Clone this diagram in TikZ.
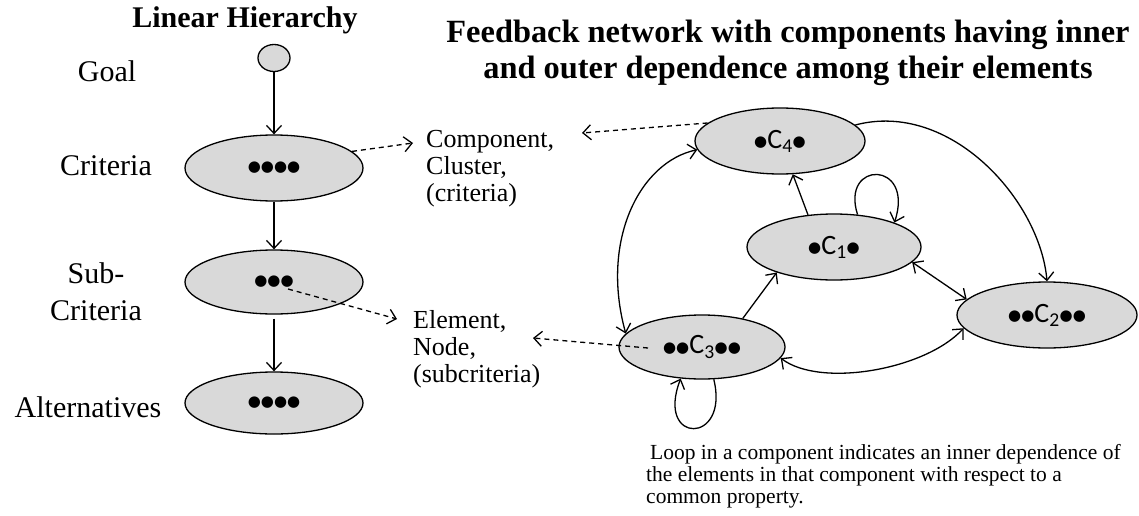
\documentclass[tikz,border=0pt]{standalone}
\usepackage{fontspec}
\setmainfont{Liberation Serif}
\newfontfamily\calib{Carlito}
\newfontfamily\djv{DejaVu Sans}
\usetikzlibrary{arrows.meta,shapes.geometric}
\definecolor{gfill}{HTML}{D9D9D9}
\newcommand\bdot{{\djv\fontsize{15}{15}\selectfont ●}}
\newcommand\cdt{\raisebox{1.5pt}{\djv\fontsize{15}{15}\selectfont ●}}
\begin{document}
\begin{tikzpicture}[x=1pt,y=-1pt,
  every node/.style={inner sep=0pt},
  oval/.style={ellipse, draw, fill=gfill, line width=1.3pt},
  lbl/.style={font=\fontsize{30}{37}\selectfont},
  mid/.style={font=\fontsize{26}{27}\selectfont, align=left},
  ttl/.style={font=\bfseries\fontsize{30}{35}\selectfont, align=center},
  cn/.style={font=\calib\fontsize{28}{30}\selectfont},
  tip/.tip={Straight Barb[length=8pt,width=15pt,line width=1.3pt]},
  con/.style={line width=1.3pt, -tip},
  dcon/.style={con, dash pattern=on 5pt off 4pt},
  bcon/.style={line width=1.3pt, tip-tip}]
\useasboundingbox (0,0) rectangle (1139,516);
% titles
\node[ttl] (t1) at (245,20) {Linear Hierarchy};
\node[ttl, font=\bfseries\fontsize{32.4}{36}\selectfont] (t2) at (788,53) {Feedback network with components having inner\\and outer dependence among their elements};
% left labels
\node[lbl, anchor=base] (lgoal) at (107,82) {Goal};
\node[lbl, anchor=base] (lcrit) at (106,175) {Criteria};
\node[lbl, align=center] (lsub) at (96,292) {Sub-\\Criteria};
\node[lbl, anchor=base] (lalt) at (88,417) {Alternatives};
% hierarchy
\node[oval, minimum width=32pt, minimum height=27pt] (goal) at (274,58) {};
\node[oval, minimum width=178pt, minimum height=66pt] (crit) at (274,168) {\bdot\bdot\bdot\bdot};
\node[oval, minimum width=178pt, minimum height=64pt] (sub) at (274,282) {\bdot\bdot\bdot};
\node[oval, minimum width=178pt, minimum height=62pt] (alt) at (274,403) {\bdot\bdot\bdot\bdot};
\draw[con] (goal) -- (crit);
\draw[con] (crit) -- (sub);
\draw[con, shorten <=4pt] (sub) -- (alt);
% middle labels
\node[mid, anchor=west] (cmp) at (426,169) {Component,\\Cluster,\\(criteria)};
\node[mid, anchor=west] (elm) at (413,349) {Element,\\Node,\\(subcriteria)};
\coordinate (cmpR) at (413,143);
\coordinate (cmpL) at (582,133);
\coordinate (elmR) at (397,319);
\coordinate (elmL) at (533,338);
\coordinate (subdot) at (288,289);
\coordinate (c3dot) at (648,348);
\draw[dcon] (crit.12) -- (cmpR);
\draw[dcon] (subdot) -- (elmR);
% network
\node[oval, minimum width=170pt, minimum height=66pt, cn] (c4) at (780,141) {\cdt C\textsubscript{4}\cdt};
\node[oval, minimum width=174pt, minimum height=66pt, cn] (c1) at (834,247) {\cdt C\textsubscript{1}\cdt};
\node[oval, minimum width=180pt, minimum height=66pt, cn] (c2) at (1047,315) {\cdt\cdt C\textsubscript{2}\cdt\cdt};
\node[oval, minimum width=166pt, minimum height=64pt, cn] (c3) at (702,347) {\cdt\cdt C\textsubscript{3}\cdt\cdt};
\draw[dcon] (c4.166) -- (cmpL);
\draw[dcon] (c3dot) -- (elmL);
\draw[con] (c4.12) .. controls (950,100) and (1040,200) .. (c2.north);
\draw[con] (c1.129) -- (c4.-69);
\draw[con] (c3.35) -- (c1.204);
\draw[con] (c1.54) .. controls (840,160) and (915,160) .. (c1.22);
\draw[bcon] (c1.-11) -- (c2.169);
\draw[bcon] (c2.189) .. controls (925,370) and (820,388) .. (c3.-8);
\draw[bcon] (c4.186) .. controls (640,162) and (600,240) .. (c3.170);
\draw[con] (c3.-70) .. controls (730,445) and (655,445) .. (c3.-124);
% footnote
\node[anchor=north west, align=left, font=\fontsize{21.5}{22}\selectfont] (note) at (646,444) {\hspace{4pt}Loop in a component indicates an inner dependence of\\the elements in that component with respect to a\\common property.};
\end{tikzpicture}
\end{document}
